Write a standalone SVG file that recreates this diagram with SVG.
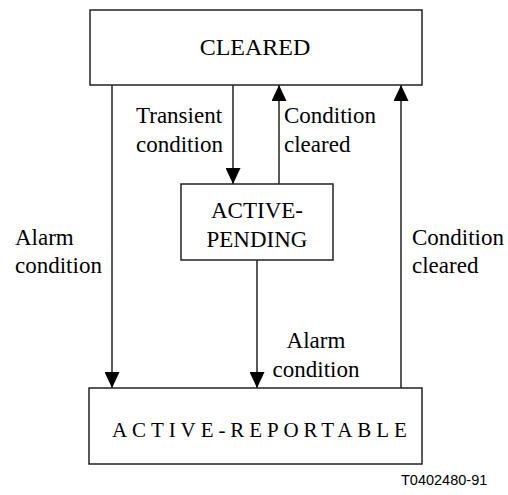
<svg xmlns="http://www.w3.org/2000/svg" width="508" height="495" viewBox="0 0 508 495">
  <style>
    .box { fill: #ffffff; stroke: #222222; stroke-width: 1.5; }
    .lbl { font-family: "Liberation Serif", "Times New Roman", serif; font-size: 23px; fill: #000000; }
    .ctr { text-anchor: middle; }
    .edge { fill: none; stroke: #222222; stroke-width: 1.5; marker-end: url(#arrow); }
    .ref { font-family: "Liberation Sans", Arial, sans-serif; font-size: 14.5px; fill: #000000; }
  </style>
  <defs>
    <marker id="arrow" markerUnits="userSpaceOnUse" markerWidth="16" markerHeight="15" refX="16" refY="7.5" orient="auto" viewBox="0 0 16 15">
      <path d="M0,0 L16,7.5 L0,15 Z" fill="#000000"/>
    </marker>
  </defs>
  <rect width="508" height="495" fill="#ffffff"/>

  <g id="connectors">
    <line class="edge" x1="112" y1="85" x2="112" y2="388"/>
    <line class="edge" x1="233" y1="85" x2="233" y2="184"/>
    <line class="edge" x1="279" y1="184" x2="279" y2="85"/>
    <line class="edge" x1="257" y1="260" x2="257" y2="388"/>
    <line class="edge" x1="401" y1="388" x2="401" y2="85"/>
    <text class="lbl" x="136" y="123">Transient</text>
    <text class="lbl" x="136" y="152">condition</text>
    <text class="lbl" x="284" y="123">Condition</text>
    <text class="lbl" x="284" y="152">cleared</text>
    <text class="lbl" x="15" y="245">Alarm</text>
    <text class="lbl" x="15" y="273">condition</text>
    <text class="lbl" x="412" y="245">Condition</text>
    <text class="lbl" x="412" y="273">cleared</text>
    <text class="lbl ctr" x="316" y="348">Alarm</text>
    <text class="lbl ctr" x="316" y="377">condition</text>
  </g>

  <g id="cleared">
    <rect class="box" x="90" y="10" width="332" height="75"/>
    <text class="lbl ctr" x="255" y="55" style="font-size:24px">CLEARED</text>
  </g>

  <g id="active-pending">
    <rect class="box" x="181" y="184" width="152" height="76"/>
    <text class="lbl ctr" x="257" y="218">ACTIVE-</text>
    <text class="lbl ctr" x="257" y="247">PENDING</text>
  </g>

  <g id="active-reportable">
    <rect class="box" x="89" y="388" width="333" height="76"/>
    <text class="lbl" x="112" y="437" style="font-size:21px; letter-spacing:4.9px">ACTIVE-REPORTABLE</text>
  </g>

  <text class="ref" x="401" y="485">T0402480-91</text>
</svg>
